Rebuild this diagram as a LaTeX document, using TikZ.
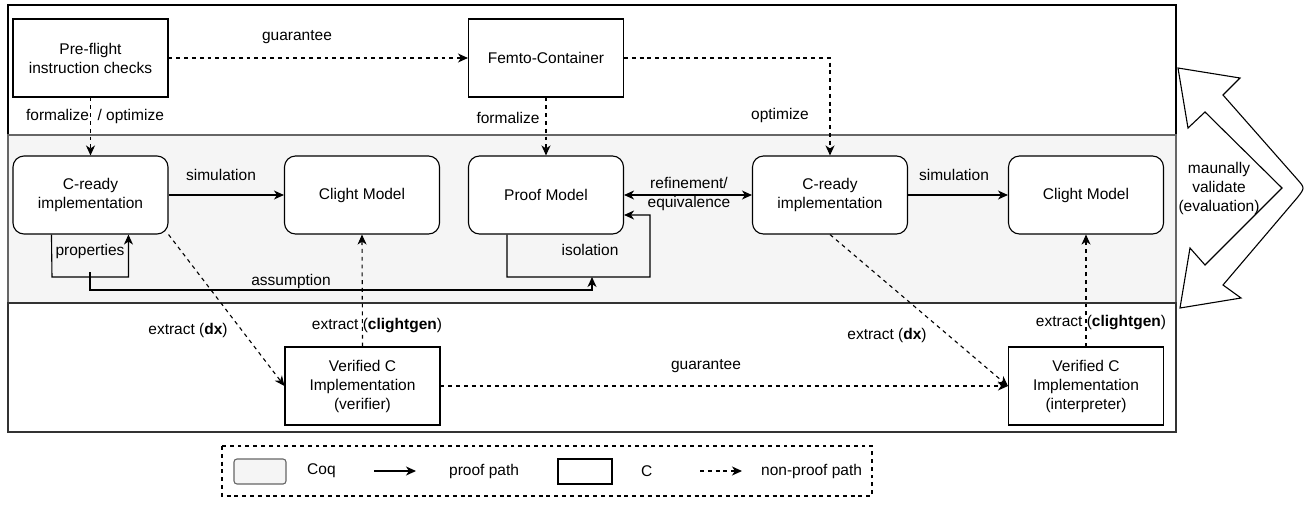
\documentclass[tikz,border=0pt]{standalone}
\usepackage{fontspec}
\setmainfont{Liberation Sans}
\usetikzlibrary{arrows.meta,calc}
\definecolor{coqgray}{HTML}{F5F5F5}
\definecolor{framegray}{HTML}{666666}
\begin{document}
\begin{tikzpicture}[x=1pt,y=-1pt,
  font=\fontsize{15.5}{19}\selectfont,
  box/.style={draw=black, line width=1.1pt, minimum width=155pt, minimum height=78pt, align=center, inner sep=2pt, fill=white},
  rbox/.style={box, rounded corners=11pt},
  sbox/.style={box},
  lbl/.style={inner sep=1pt, align=center},
  solidarrow/.style={draw, line width=1.1pt, -{Stealth[length=10pt,width=9pt,inset=3pt]}},
  dasharrow/.style={solidarrow, dash pattern=on 3.9pt off 3.9pt},
]
\useasboundingbox (0,0) rectangle (1307,504);
\fill[white] (0,0) rectangle (1307,504);

% sections
\draw[line width=1.2pt] (8,5) rectangle (1176,135);
\draw[framegray, fill=coqgray, line width=1.2pt] (8,135) rectangle (1176,303);
\draw[line width=1.2pt, draw=black!80] (8,303) rectangle (1176,432);

% top row
\node[sbox] (pre) at (90.5,58) {Pre-flight\\instruction checks};
\node[sbox] (femto) at (546,58) {Femto-Container};

% middle row
\node[rbox] (cr1) at (90.5,195) {C-ready\\implementation};
\node[rbox] (cl1) at (362,195) {Clight Model};
\node[rbox] (pm) at (546,195) {Proof Model};
\node[rbox] (cr2) at (830,195) {C-ready\\implementation};
\node[rbox] (cl2) at (1086,195) {Clight Model};

% bottom row
\node[sbox] (ver) at (362.5,386) {Verified C\\Implementation\\(verifier)};
\node[sbox] (int) at (1086,386) {Verified C\\Implementation\\(interpreter)};

% top connectors
\draw[dasharrow] (pre.east) -- (femto.west);
\node[lbl] (lguar1) at (297,37) {guarantee};
\draw[dasharrow] (femto.east) -| (cr2.north);
\node[lbl] (lopt) at (780,115) {optimize};
\draw[dasharrow] (pre.south) -- (cr1.north);
\node[lbl] (lform1) at (95,116) {formalize\ \ / optimize};
\draw[dasharrow] (femto.south) -- (pm.north);
\node[lbl] (lform2) at (508,118) {formalize};

% middle connectors
\draw[solidarrow] (cr1.east) -- (cl1.west);
\node[lbl] (lsim1) at (221,175) {simulation};
\draw[solidarrow] (cr2.east) -- (cl2.west);
\node[lbl] (lsim2) at (954,175) {simulation};
\draw[solidarrow, {Stealth[length=10pt,width=9pt,inset=3pt]}-{Stealth[length=10pt,width=9pt,inset=3pt]}] (pm.east) -- (cr2.west);
\node[lbl] (lref) at (689,194) {refinement/\\equivalence};

% isolation loop
\coordinate (isoA) at ($(pm.south west)+(39,0)$);
\coordinate (isoB) at (507,277);
\coordinate (isoC) at (650,215);
\coordinate (isoD) at ($(pm.east)+(0,20)$);
\draw[solidarrow] (isoA) -- (isoB) -| (isoC) -- (isoD);
\node[lbl] (liso) at (590,250) {isolation};

% properties loop
\coordinate (prA) at ($(cr1.south west)+(39,0)$);
\coordinate (prB) at (52,277);
\coordinate (prC) at ($(cr1.south west)+(116,0)$);
\draw[solidarrow] (prA) -- (prB) -| (prC);
\node[lbl] (lprop) at (90,251) {properties};

% assumption
\coordinate (asA) at (90,272);
\coordinate (asB) at (90,290);
\coordinate (asC) at (592,277);
\draw[solidarrow] (asA) -- (asB) -| (asC);
\node[lbl] (lass) at (291,281) {assumption};

% extraction
\draw[dasharrow] (cr1.south east) -- (ver.west);
\node[lbl] (ldx1) at (188,330) {extract (\textbf{dx})};
\draw[dasharrow] (cr2.south) -- (int.west);
\node[lbl] (ldx2) at (887,335) {extract (\textbf{dx})};
\draw[dasharrow] (ver.north) -- (cl1.south);
\node[lbl] (lcg1) at (377,326) {extract (\textbf{clightgen})};
\draw[dasharrow] (int.north) -- (cl2.south);
\node[lbl] (lcg2) at (1101,323) {extract (\textbf{clightgen})};
\draw[dasharrow] (ver.east) -- (int.west);
\node[lbl] (lguar2) at (706,366) {guarantee};

% big double arrow
\draw[line width=1.1pt, fill=white, line join=miter]
  (1178,68) -- (1240,78) -- (1223,95) -- (1297,179)
  .. controls (1305,188) .. (1297,198)
  -- (1223,285) -- (1241,298) -- (1180,308) -- (1190,248) -- (1205,265)
  -- (1282,188) -- (1205,112) -- (1188,128) -- cycle;
\node[lbl] (lval) at (1219,188) {maunally\\validate\\(evaluation)};

% legend
\draw[line width=1.1pt, dash pattern=on 3.9pt off 3.9pt] (222,446) rectangle (872,496);
\node[draw=framegray, fill=coqgray, line width=1.1pt, rounded corners=3pt, minimum width=52pt, minimum height=25pt, inner sep=0pt] (legcoq) at (260,471.5) {};
\node[lbl, anchor=west] (legcoqt) at (306,471) {Coq};
\coordinate (legpA) at (374,471);
\coordinate (legpB) at (416,471);
\draw[solidarrow] (legpA) -- (legpB);
\node[lbl, anchor=west] (legpt) at (448,471) {proof path};
\node[draw=black, fill=white, line width=1.1pt, minimum width=54pt, minimum height=25pt, inner sep=0pt] (legc) at (585,471.5) {};
\node[lbl, anchor=west] (legct) at (640,471) {C};
\coordinate (legnA) at (700,471);
\coordinate (legnB) at (742,471);
\draw[dasharrow] (legnA) -- (legnB);
\node[lbl, anchor=west] (legnt) at (760,471) {non-proof path};
\end{tikzpicture}
\end{document}
